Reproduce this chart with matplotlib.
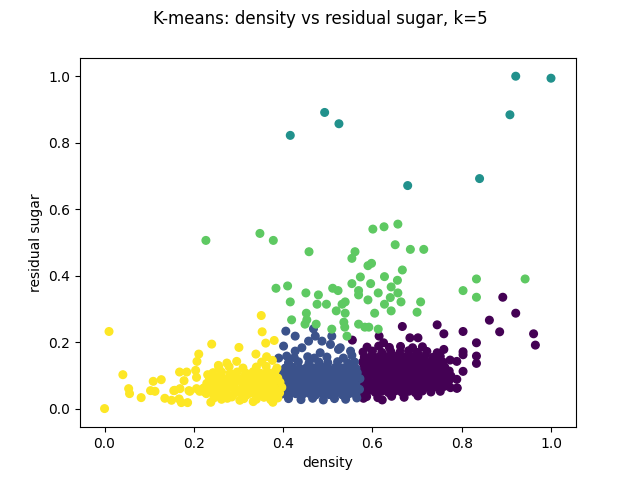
import numpy as np
import matplotlib
matplotlib.use("Agg")
import matplotlib.pyplot as plt

# cluster 0 (purple) - high density, low sugar
purple_pts = [
    (0.892, 0.335), (0.921, 0.287), (0.862, 0.266), (0.885, 0.231), (0.961, 0.225), (0.965, 0.191),
    (0.745, 0.252), (0.760, 0.225), (0.803, 0.232), (0.833, 0.198), (0.803, 0.171), (0.803, 0.162),
    (0.833, 0.158), (0.833, 0.136), (0.803, 0.112), (0.789, 0.142), (0.789, 0.088), (0.789, 0.061),
    (0.760, 0.068), (0.760, 0.097), (0.760, 0.178), (0.667, 0.247), (0.684, 0.213), (0.702, 0.213),
    (0.615, 0.218), (0.625, 0.198), (0.555, 0.206), (0.622, 0.026), (0.580, 0.031), (0.790, 0.062),
    (0.587, 0.036), (0.612, 0.033), (0.643, 0.037), (0.671, 0.034), (0.702, 0.038),
    (0.575, 0.050), (0.590, 0.053), (0.606, 0.049), (0.621, 0.052), (0.636, 0.048), (0.651, 0.053),
    (0.666, 0.049), (0.681, 0.052), (0.696, 0.048), (0.712, 0.053), (0.731, 0.050), (0.752, 0.052),
    (0.580, 0.066), (0.595, 0.063), (0.610, 0.067), (0.625, 0.064), (0.640, 0.068), (0.655, 0.063),
    (0.670, 0.066), (0.685, 0.064), (0.700, 0.068), (0.715, 0.063), (0.730, 0.066), (0.745, 0.064),
    (0.761, 0.067), (0.775, 0.063),
    (0.576, 0.080), (0.591, 0.083), (0.606, 0.079), (0.621, 0.082), (0.636, 0.080), (0.651, 0.084),
    (0.666, 0.079), (0.681, 0.082), (0.696, 0.080), (0.711, 0.083), (0.726, 0.079), (0.741, 0.082),
    (0.756, 0.080), (0.771, 0.083),
    (0.580, 0.095), (0.595, 0.098), (0.610, 0.094), (0.625, 0.097), (0.640, 0.095), (0.655, 0.099),
    (0.670, 0.094), (0.685, 0.097), (0.700, 0.095), (0.715, 0.098), (0.730, 0.094), (0.745, 0.097),
    (0.760, 0.095), (0.776, 0.098),
    (0.577, 0.110), (0.592, 0.113), (0.607, 0.109), (0.622, 0.112), (0.637, 0.110), (0.652, 0.114),
    (0.667, 0.109), (0.682, 0.112), (0.697, 0.110), (0.712, 0.113), (0.727, 0.109), (0.742, 0.112),
    (0.757, 0.110), (0.772, 0.113),
    (0.581, 0.125), (0.596, 0.128), (0.611, 0.124), (0.626, 0.127), (0.641, 0.125), (0.656, 0.129),
    (0.671, 0.124), (0.686, 0.127), (0.701, 0.125), (0.716, 0.128), (0.731, 0.124), (0.746, 0.127),
    (0.762, 0.125),
    (0.578, 0.140), (0.593, 0.143), (0.608, 0.139), (0.623, 0.142), (0.638, 0.140), (0.653, 0.144),
    (0.668, 0.139), (0.683, 0.142), (0.698, 0.140), (0.713, 0.143), (0.728, 0.139), (0.743, 0.142),
    (0.758, 0.140), (0.774, 0.146),
    (0.582, 0.155), (0.597, 0.158), (0.612, 0.154), (0.627, 0.157), (0.642, 0.155), (0.657, 0.159),
    (0.672, 0.154), (0.687, 0.157), (0.702, 0.155), (0.717, 0.158), (0.735, 0.154), (0.752, 0.157),
    (0.579, 0.170), (0.600, 0.173), (0.621, 0.169), (0.641, 0.172), (0.662, 0.170), (0.681, 0.174),
    (0.701, 0.169), (0.722, 0.172), (0.745, 0.168),
    (0.588, 0.185), (0.614, 0.188), (0.638, 0.184), (0.663, 0.187), (0.690, 0.183), (0.712, 0.186),
]

# cluster 1 (blue) - mid density
blue_pts = [
    (0.406, 0.233), (0.427, 0.218), (0.401, 0.188), (0.390, 0.152), (0.468, 0.240), (0.472, 0.218),
    (0.487, 0.203), (0.506, 0.193), (0.524, 0.178), (0.551, 0.173), (0.483, 0.168), (0.427, 0.173),
    (0.408, 0.158), (0.457, 0.203), (0.442, 0.183), (0.509, 0.218), (0.528, 0.183), (0.554, 0.160),
    (0.412, 0.030), (0.440, 0.027), (0.466, 0.031), (0.490, 0.026), (0.515, 0.030), (0.540, 0.028),
    (0.565, 0.032),
    (0.398, 0.044), (0.413, 0.041), (0.428, 0.045), (0.443, 0.042), (0.458, 0.046), (0.473, 0.041),
    (0.488, 0.045), (0.503, 0.042), (0.518, 0.046), (0.533, 0.041), (0.548, 0.045), (0.563, 0.042),
    (0.393, 0.058), (0.407, 0.061), (0.422, 0.057), (0.437, 0.060), (0.452, 0.058), (0.467, 0.062),
    (0.482, 0.057), (0.497, 0.060), (0.512, 0.058), (0.527, 0.061), (0.542, 0.057), (0.557, 0.060),
    (0.571, 0.058),
    (0.398, 0.074), (0.413, 0.077), (0.428, 0.073), (0.443, 0.076), (0.458, 0.074), (0.473, 0.078),
    (0.488, 0.073), (0.503, 0.076), (0.518, 0.074), (0.533, 0.077), (0.548, 0.073), (0.563, 0.076),
    (0.394, 0.090), (0.409, 0.093), (0.424, 0.089), (0.439, 0.092), (0.454, 0.090), (0.469, 0.094),
    (0.484, 0.089), (0.499, 0.092), (0.514, 0.090), (0.529, 0.093), (0.544, 0.089), (0.559, 0.092),
    (0.572, 0.090),
    (0.400, 0.106), (0.416, 0.109), (0.431, 0.105), (0.446, 0.108), (0.461, 0.106), (0.476, 0.110),
    (0.491, 0.105), (0.506, 0.108), (0.521, 0.106), (0.536, 0.109), (0.551, 0.105), (0.566, 0.108),
    (0.405, 0.122), (0.421, 0.125), (0.437, 0.121), (0.453, 0.124), (0.469, 0.122), (0.485, 0.126),
    (0.501, 0.121), (0.517, 0.124), (0.533, 0.122), (0.549, 0.125), (0.563, 0.121),
    (0.412, 0.138), (0.434, 0.141), (0.458, 0.137), (0.480, 0.140), (0.500, 0.138), (0.522, 0.141),
    (0.545, 0.137), (0.560, 0.140),
    (0.425, 0.153), (0.455, 0.156), (0.470, 0.152), (0.498, 0.155), (0.535, 0.152),
]

# cluster 2 (teal) - outliers
teal_pts = [
    (0.416, 0.822), (0.493, 0.891), (0.525, 0.857), (0.679, 0.671),
    (0.840, 0.692), (0.908, 0.884), (0.921, 1.000), (1.000, 0.994),
]

# cluster 3 (green) - higher sugar
green_pts = [
    (0.227, 0.506), (0.348, 0.527), (0.378, 0.506), (0.458, 0.472), (0.601, 0.540), (0.626, 0.547),
    (0.657, 0.555), (0.651, 0.493), (0.685, 0.479), (0.715, 0.479), (0.561, 0.472), (0.554, 0.452),
    (0.590, 0.430), (0.598, 0.437), (0.667, 0.417), (0.384, 0.362), (0.410, 0.369), (0.451, 0.348),
    (0.479, 0.342), (0.511, 0.362), (0.523, 0.355), (0.554, 0.376), (0.573, 0.396), (0.596, 0.376),
    (0.627, 0.397), (0.642, 0.366), (0.656, 0.386), (0.569, 0.355), (0.569, 0.342), (0.613, 0.348),
    (0.657, 0.348), (0.640, 0.334), (0.664, 0.321), (0.708, 0.321), (0.416, 0.321), (0.476, 0.314),
    (0.497, 0.314), (0.539, 0.321), (0.532, 0.314), (0.590, 0.327), (0.627, 0.314), (0.642, 0.294),
    (0.700, 0.290), (0.519, 0.294), (0.539, 0.287), (0.452, 0.287), (0.605, 0.287), (0.419, 0.267),
    (0.453, 0.267), (0.536, 0.260), (0.449, 0.254), (0.474, 0.254), (0.569, 0.254), (0.538, 0.245),
    (0.509, 0.239), (0.583, 0.245), (0.592, 0.245), (0.613, 0.239), (0.543, 0.218),
    (0.833, 0.390), (0.803, 0.355), (0.833, 0.335), (0.942, 0.390),
]

# cluster 4 (yellow) - low density
yellow_pts = [
    (0.000, 0.000), (0.010, 0.232), (0.041, 0.102), (0.054, 0.060), (0.056, 0.045), (0.082, 0.033),
    (0.103, 0.054), (0.109, 0.082), (0.113, 0.052), (0.127, 0.087), (0.135, 0.031), (0.150, 0.025),
    (0.155, 0.054), (0.168, 0.110), (0.169, 0.060), (0.167, 0.029), (0.172, 0.018), (0.178, 0.084),
    (0.184, 0.110), (0.186, 0.018), (0.189, 0.054), (0.204, 0.115), (0.206, 0.094), (0.206, 0.060),
    (0.207, 0.142), (0.211, 0.164), (0.221, 0.052), (0.231, 0.102), (0.238, 0.019), (0.240, 0.194),
    (0.255, 0.130), (0.274, 0.137), (0.275, 0.031), (0.301, 0.184), (0.303, 0.025), (0.333, 0.021),
    (0.339, 0.164), (0.351, 0.280), (0.353, 0.231), (0.361, 0.197), (0.363, 0.156), (0.377, 0.019),
    (0.380, 0.205), (0.157, 0.055), (0.191, 0.052), (0.213, 0.052),
    (0.245, 0.032), (0.262, 0.028), (0.285, 0.035), (0.312, 0.030), (0.340, 0.028), (0.357, 0.034),
    (0.372, 0.027), (0.388, 0.032),
    (0.228, 0.045), (0.243, 0.048), (0.258, 0.043), (0.273, 0.047), (0.290, 0.044), (0.305, 0.048),
    (0.320, 0.042), (0.334, 0.046), (0.349, 0.044), (0.364, 0.048), (0.378, 0.043), (0.392, 0.047),
    (0.222, 0.062), (0.236, 0.058), (0.251, 0.063), (0.266, 0.060), (0.281, 0.064), (0.296, 0.058),
    (0.311, 0.062), (0.326, 0.060), (0.341, 0.063), (0.356, 0.059), (0.371, 0.062), (0.386, 0.058),
    (0.397, 0.064),
    (0.229, 0.076), (0.244, 0.080), (0.259, 0.075), (0.274, 0.079), (0.289, 0.077), (0.304, 0.081),
    (0.319, 0.075), (0.334, 0.079), (0.349, 0.076), (0.364, 0.080), (0.379, 0.077), (0.393, 0.079),
    (0.235, 0.092), (0.252, 0.095), (0.268, 0.090), (0.283, 0.094), (0.298, 0.091), (0.313, 0.096),
    (0.328, 0.092), (0.343, 0.095), (0.358, 0.090), (0.373, 0.094), (0.388, 0.092),
    (0.243, 0.108), (0.262, 0.110), (0.281, 0.106), (0.297, 0.110), (0.316, 0.107), (0.333, 0.111),
    (0.350, 0.106), (0.366, 0.109), (0.382, 0.112),
    (0.256, 0.123), (0.279, 0.126), (0.310, 0.122), (0.340, 0.125), (0.362, 0.127), (0.386, 0.122),
    (0.296, 0.142), (0.352, 0.140), (0.376, 0.145),
]

clusters = [purple_pts, blue_pts, teal_pts, green_pts, yellow_pts]

xs, ys, labels = [], [], []
for k, pts in enumerate(clusters):
    for x, y in pts:
        xs.append(x)
        ys.append(y)
        labels.append(k)

fig = plt.figure(figsize=(6.4, 4.8), dpi=100)
plt.scatter(xs, ys, c=labels, cmap="viridis", s=30)
plt.xlim(-0.055, 1.056)
plt.ylim(-0.056, 1.056)
plt.xlabel("density")
plt.ylabel("residual sugar")
fig.suptitle("K-means: density vs residual sugar, k=5")
plt.savefig("out.png")
